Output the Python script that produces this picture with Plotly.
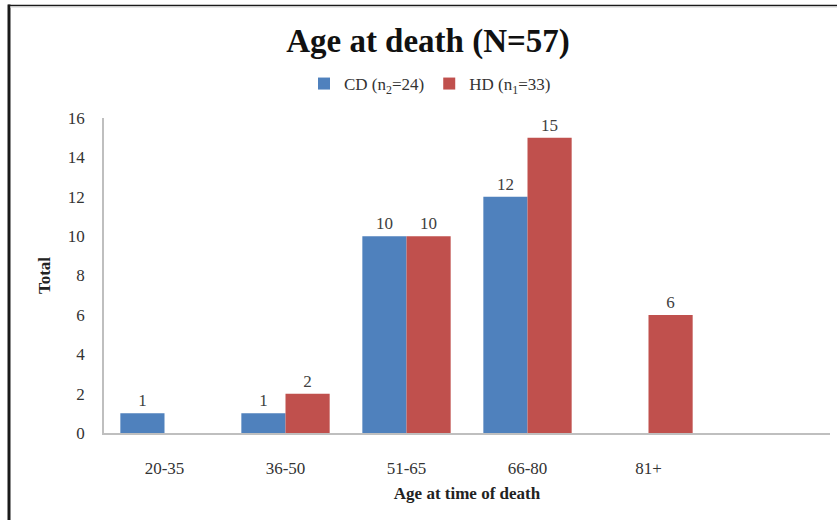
import plotly.graph_objects as go

# Age groups and counts per group
age_groups = ["20-35", "36-50", "51-65", "66-80", "81+"]
cd_counts = [1, 1, 10, 12, 0]
hd_counts = [0, 2, 10, 15, 6]
y_ticks = [0, 2, 4, 6, 8, 10, 12, 14, 16]

SERIF = "Liberation Serif, Times New Roman, serif"
BLUE = "#4F81BD"
RED = "#C0504D"

# plot area in pixels (for placing the frame lines around the figure)
W, H = 837, 520
L, R, T, B = 104, 7, 118, 87
pw, ph = W - L - R, H - T - B


def px_x(x):
    return (x - L) / pw


def px_y(y):
    return (H - B - y) / ph


def add_series(name, groups, counts, color):
    # zero counts get neither a bar nor a value label
    xs = [g for g, c in zip(groups, counts) if c]
    ys = [c for c in counts if c]
    fig.add_trace(go.Bar(
        x=xs, y=ys, name=name,
        marker=dict(color=color, line=dict(width=0)),
        text=[str(v) for v in ys], textposition="outside",
        textfont=dict(family=SERIF, size=17, color="#404040"),
        cliponaxis=False, offsetgroup=name,
    ))


fig = go.Figure()
add_series("CD (n<sub>2</sub>=24)", age_groups, cd_counts, BLUE)
add_series("HD (n<sub>1</sub>=33)", age_groups, hd_counts, RED)

fig.update_layout(
    width=W, height=H,
    margin=dict(l=L, r=R, t=T, b=B),
    paper_bgcolor="white", plot_bgcolor="white",
    barmode="group", bargap=0.27, bargroupgap=0,
    font=dict(family=SERIF, size=17, color="#333333"),
    title=dict(
        text="<b>Age at death (N=57)</b>",
        font=dict(family=SERIF, size=33, color="#111111"),
        x=px_x(428), xref="paper", xanchor="center",
        y=1 - 40 / H, yref="container", yanchor="middle",
    ),
    legend=dict(
        orientation="h", x=px_x(430), xanchor="center",
        y=px_y(84), yanchor="middle",
        font=dict(family=SERIF, size=17, color="#333333"),
        itemwidth=30, traceorder="normal",
    ),
    xaxis=dict(
        type="category", categoryorder="array", categoryarray=age_groups,
        range=[-0.5, 5.5],
        showline=True, linecolor="#bfbfbf", linewidth=2,
        ticks="outside", ticklen=19, tickcolor="rgba(0,0,0,0)",
        showgrid=False, zeroline=False,
        tickfont=dict(family=SERIF, size=17, color="#333333"),
        title=dict(text="<b>Age at time of death</b>",
                   font=dict(family=SERIF, size=17, color="#222222"),
                   standoff=10),
    ),
    yaxis=dict(
        range=[0, 16], tickvals=y_ticks,
        showline=True, linecolor="#bfbfbf", linewidth=1.5,
        ticks="outside", ticklen=14, tickcolor="rgba(0,0,0,0)",
        showgrid=False, zeroline=False,
        tickfont=dict(family=SERIF, size=17, color="#333333"),
        title=dict(text="<b>Total</b>",
                   font=dict(family=SERIF, size=17, color="#222222"),
                   standoff=13),
    ),
    shapes=[
        # outer frame: heavy left edge and thin top edge
        dict(type="line", xref="paper", yref="paper",
             x0=px_x(9), x1=px_x(9), y0=px_y(4.5), y1=px_y(H + 2),
             line=dict(color="#1a1a1a", width=3)),
        dict(type="line", xref="paper", yref="paper",
             x0=px_x(8), x1=px_x(W + 2), y0=px_y(5.5), y1=px_y(5.5),
             line=dict(color="#1a1a1a", width=1.5)),
        dict(type="line", xref="paper", yref="paper",
             x0=px_x(10), x1=px_x(W + 2), y0=px_y(7), y1=px_y(7),
             line=dict(color="#cfcfcf", width=1)),
    ],
)

fig.write_html("out.html")
